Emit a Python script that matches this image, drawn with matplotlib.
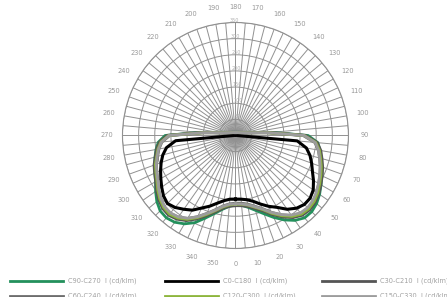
import numpy as np
import matplotlib
matplotlib.use("Agg")
import matplotlib.pyplot as plt
from matplotlib.lines import Line2D

# angulos (grados) compartidos por todas las curvas: 0, 5, ..., 355
angulos = list(range(0, 360, 5))

# intensidades (cd/klm), por tramos 0-90 / 95-175 / 180-265 / 270-355
c90_c270 = ([215, 217, 226, 240, 258, 280, 302, 321, 333, 334, 328, 318, 306, 295, 285, 275, 266, 256, 225]
            + [112, 56, 38, 28, 23, 19, 17, 15, 14, 13, 12, 11, 11, 10, 10, 10, 10]
            + [10, 10, 10, 10, 10, 11, 11, 12, 13, 14, 15, 17, 19, 23, 28, 38, 56, 112]
            + [218, 240, 250, 258, 267, 275, 286, 302, 318, 330, 333, 328, 316, 298, 272, 250, 232, 220])
c0_c180 = ([197, 198, 202, 211, 226, 242, 257, 279, 294, 302, 302, 294, 279, 263, 251, 239, 223, 192, 4]
           + [3, 2, 2, 2, 2, 2, 2, 2, 2, 2, 2, 2, 2, 2, 2, 2, 2]
           + [2, 2, 2, 2, 2, 2, 2, 2, 2, 2, 2, 2, 2, 2, 2, 2, 2, 3]
           + [4, 186, 217, 233, 245, 256, 267, 279, 291, 298, 291, 279, 267, 248, 233, 217, 205, 198])
c30_c210 = ([217, 218, 223, 234, 248, 270, 291, 310, 322, 325, 322, 315, 305, 296, 287, 277, 268, 254, 217]
            + [105, 53, 36, 27, 22, 19, 16, 15, 13, 12, 11, 11, 10, 10, 10, 9, 9]
            + [9, 9, 9, 10, 10, 10, 11, 11, 12, 13, 15, 16, 19, 22, 27, 36, 53, 105]
            + [211, 236, 248, 257, 268, 276, 285, 298, 310, 319, 322, 316, 304, 285, 264, 245, 229, 220])
c60_c240 = ([210, 211, 216, 227, 241, 263, 284, 303, 315, 318, 315, 308, 298, 289, 280, 270, 261, 247, 210]
            + [100, 50, 34, 26, 21, 18, 16, 14, 13, 12, 11, 10, 10, 10, 9, 9, 9]
            + [9, 9, 9, 9, 10, 10, 10, 11, 12, 13, 14, 16, 18, 21, 26, 34, 50, 100]
            + [204, 229, 241, 250, 261, 269, 278, 291, 303, 312, 315, 309, 297, 278, 257, 238, 222, 213])
c120_c300 = ([213, 214, 219, 230, 244, 266, 287, 306, 318, 321, 318, 311, 301, 292, 283, 273, 264, 250, 213]
             + [100, 50, 34, 26, 21, 18, 16, 14, 13, 12, 11, 10, 10, 10, 9, 9, 9]
             + [9, 9, 9, 9, 10, 10, 10, 11, 12, 13, 14, 16, 18, 21, 26, 34, 50, 100]
             + [207, 232, 244, 253, 264, 272, 281, 294, 306, 315, 318, 312, 300, 281, 260, 241, 225, 216])
c150_c330 = ([212, 213, 218, 228, 242, 263, 283, 301, 313, 316, 313, 306, 297, 288, 279, 270, 261, 248, 212]
             + [100, 50, 34, 26, 21, 18, 16, 14, 13, 12, 11, 10, 10, 10, 9, 9, 9]
             + [9, 9, 9, 9, 10, 10, 10, 11, 12, 13, 14, 16, 18, 21, 26, 34, 50, 100]
             + [206, 230, 242, 251, 261, 269, 278, 290, 302, 311, 313, 308, 296, 278, 257, 239, 223, 214])

series = [
    ("C90-C270  I (cd/klm)", c90_c270, "#23905c", 2.0),
    ("C0-C180  I (cd/klm)", c0_c180, "#000000", 2.2),
    ("C30-C210  I (cd/klm)", c30_c210, "#555555", 2.2),
    ("C60-C240  I (cd/klm)", c60_c240, "#6d6d6d", 2.2),
    ("C120-C300  I (cd/klm)", c120_c300, "#8db53c", 2.0),
    ("C150-C330  I (cd/klm)", c150_c330, "#9c9c9c", 2.0),
]

radios = [50, 100, 150, 200, 250, 300, 350]

fig = plt.figure(figsize=(4.47, 2.97), dpi=100)
ax = fig.add_axes([0.274, 0.1633, 0.5056, 0.761], projection="polar")
ax.set_theta_zero_location("S")
ax.set_theta_direction(1)

th = np.deg2rad(angulos + [angulos[0]])
for nombre, valores, color, lw in series:
    ax.plot(th, valores + [valores[0]], color=color, lw=lw, label=nombre)

ax.set_ylim(0, 350)
ax.set_yticks(radios)
ax.set_yticklabels([str(r) for r in radios], fontsize=3.5, color="#b0b0b0")
ax.set_rlabel_position(183)

ticks = list(range(0, 360, 5))
etiquetas = [str(t) if t % 10 == 0 else "" for t in ticks]
ax.set_thetagrids(ticks, etiquetas, fontsize=4.8, color="#999999")
ax.tick_params(axis="x", pad=1)
ax.grid(True, color="#919191", lw=0.7)
ax.spines["polar"].set_color("#919191")
ax.spines["polar"].set_linewidth(0.8)
ax.set_axisbelow(True)

# leyenda manual en tres columnas (la segunda fila queda cortada como en el original)
W, H = 447, 297
xs = [10, 165, 322]
ys = [281, 296]
for i, (nombre, valores, color, lw) in enumerate(series):
    x0 = xs[i % 3]
    y0 = ys[i // 3]
    fig.add_artist(Line2D([x0 / W, (x0 + 53) / W], [1 - y0 / H, 1 - y0 / H],
                          color=color, lw=2, transform=fig.transFigure))
    fig.text((x0 + 58) / W, 1 - y0 / H, nombre, fontsize=4.8, color="#a0a0a0", va="center")

fig.savefig("out.png", dpi=100)
